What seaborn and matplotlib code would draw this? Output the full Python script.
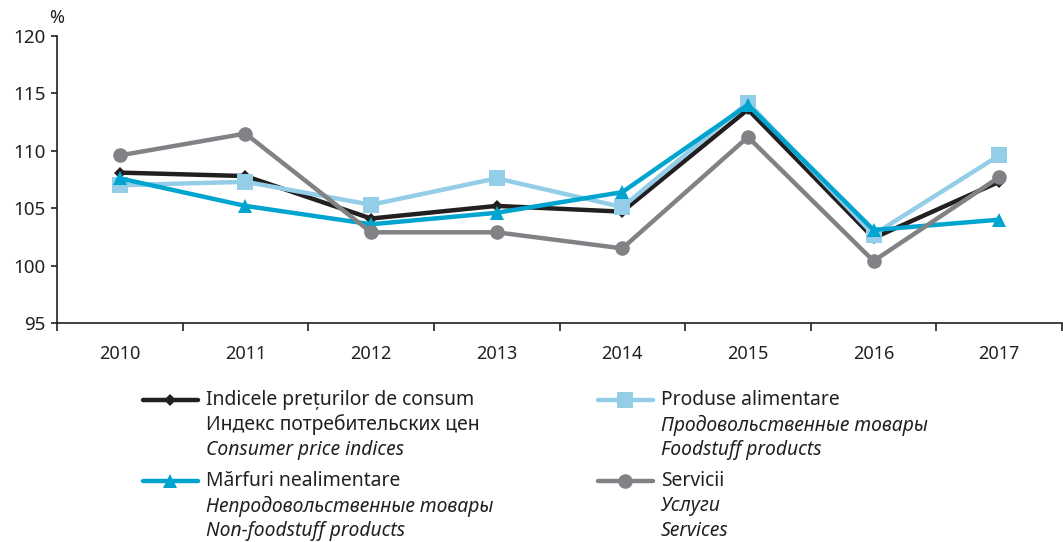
import matplotlib
matplotlib.use("Agg")
import matplotlib.pyplot as plt
import seaborn as sns
import numpy as np
import pandas as pd
from matplotlib.lines import Line2D

# --- data (December vs December of previous year, %) ---
years = ["2010", "2011", "2012", "2013", "2014", "2015", "2016", "2017"]
cpi = [108.1, 107.8, 104.1, 105.2, 104.7, 113.6, 102.4, 107.3]
food = [107.0, 107.3, 105.3, 107.6, 105.1, 114.2, 102.7, 109.6]
nonfood = [107.6, 105.2, 103.6, 104.6, 106.4, 114.0, 103.1, 104.0]
services = [109.6, 111.5, 102.9, 102.9, 101.5, 111.2, 100.4, 107.7]

labels_ro = ["Indicele prețurilor de consum", "Produse alimentare",
             "Mărfuri nealimentare", "Servicii"]
labels_ru = ["Индекс потребительских цен", "Продовольственные товары",
             "Непродовольственные товары", "Услуги"]
labels_en = ["Consumer price indices", "Foodstuff products",
             "Non-foodstuff products", "Services"]

colors = ["#231f20", "#93cde8", "#00a5cf", "#808285"]
markers = ["D", "s", "^", "o"]
msizes = [6, 11, 9.5, 10.5]

sns.set_theme(style="white")
plt.rcParams['font.family'] = ['Noto Sans', 'DejaVu Sans']

fig = plt.figure(figsize=(10.63, 5.42), dpi=100)
W, H = 1063, 542
ax = fig.add_axes([57 / W, 1 - 323 / H, (1062 - 57) / W, (323 - 36) / H])

x = np.arange(len(years))
series = [cpi, food, nonfood, services]
for vals, col, mk, ms in zip(series, colors, markers, msizes):
    df = pd.DataFrame({"x": x, "y": vals})
    sns.lineplot(data=df, x="x", y="y", ax=ax, color=col, marker=mk,
                 markersize=ms, markeredgewidth=0, linewidth=3.2)

ax.set_xlim(-0.5, len(years) - 0.5)
ax.set_ylim(95, 120)
ax.set_yticks([95, 100, 105, 110, 115, 120])
ax.set_xticks(x)
ax.set_xticklabels(years)
ax.set_xticks(np.arange(len(years) + 1) - 0.5, minor=True)
ax.tick_params(axis="x", which="major", length=0, pad=16, labelsize=13, colors="#231f20")
ax.tick_params(axis="x", which="minor", length=6, width=1.2, direction="out",
               bottom=True, color="#231f20")
ax.tick_params(axis="y", length=4, width=1.2, direction="out", left=True,
               labelsize=13.5, colors="#231f20", pad=4)
ax.set_xlabel("")
ax.set_ylabel("")
for s in ["top", "right"]:
    ax.spines[s].set_visible(False)
for s in ["left", "bottom"]:
    ax.spines[s].set_color("#231f20")
    ax.spines[s].set_linewidth(1.2)

fig.text(57 / W, 1 - 18 / H, "%", fontsize=13, ha="center", va="center", color="#231f20")

# --- legend drawn manually: three-language labels ---
col_x = [143, 598]
row_y = [400, 481]
positions = [(0, 0), (1, 0), (0, 1), (1, 1)]
for i, (cx, ry) in enumerate(positions):
    hx, hy = col_x[cx], row_y[ry]
    fig.add_artist(Line2D([hx / W, (hx + 27) / W, (hx + 55) / W], [1 - hy / H] * 3,
                          transform=fig.transFigure, color=colors[i], lw=3.2,
                          marker=markers[i], markersize=msizes[i], markeredgewidth=0,
                          markevery=[1]))
    tx = (hx + 63) / W
    fig.text(tx, 1 - hy / H, labels_ro[i], fontsize=13.9, va="center", color="#231f20")
    fig.text(tx, 1 - (hy + 25) / H, labels_ru[i], fontsize=13.9, va="center",
             style="normal" if i == 0 else "italic", color="#231f20")
    fig.text(tx, 1 - (hy + 50) / H, labels_en[i], fontsize=13.9, va="center",
             style="italic", color="#231f20")

fig.savefig("out.png", dpi=100)
